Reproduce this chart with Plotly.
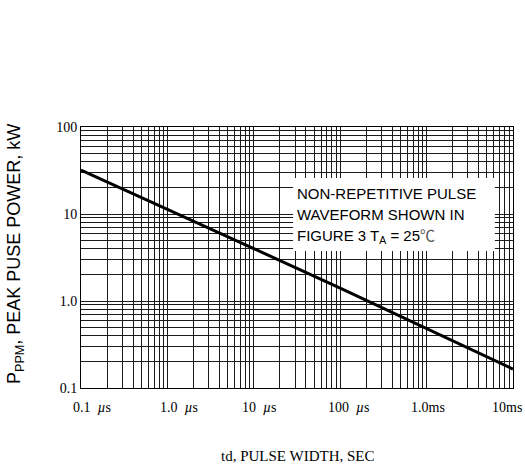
import math
import plotly.graph_objects as go

# Data (pulse width in seconds, peak power in kW)
pulse_width_s = [1e-7, 1e-6, 1e-5, 1e-4, 1e-3, 1e-2]
peak_power_kw = [32.0, 11.2, 4.0, 1.41, 0.48, 0.165]

x_tick_vals = [1e-7, 1e-6, 1e-5, 1e-4, 1e-3, 1e-2]
x_tick_text = ["0.1  <i>µ</i>s", "1.0  <i>µ</i>s", "10  <i>µ</i>s", "100  <i>µ</i>s", "1.0ms", "10ms"]
y_tick_vals = [0.1, 1, 10, 100]
y_tick_text = ["0.1", "1.0", "10", "100"]

note_lines = ["NON-REPETITIVE PULSE", "WAVEFORM SHOWN IN",
              "FIGURE 3 T<sub>A</sub> = 25<span style='font-family:Noto Sans CJK SC;color:#555'>℃</span>"]

serif = "Liberation Serif, Times New Roman, serif"
sans = "Liberation Sans, Arial, sans-serif"

fig = go.Figure()
fig.add_trace(go.Scatter(x=pulse_width_s, y=peak_power_kw, mode="lines",
                         line=dict(color="black", width=3), showlegend=False))

grid_color = "#1a1a1a"
fig.update_xaxes(type="log", range=[-7, -2], tickvals=x_tick_vals, showticklabels=False,
                 showgrid=True, gridcolor=grid_color, gridwidth=1,
                 minor=dict(dtick="D1", showgrid=True, gridcolor=grid_color, gridwidth=1, ticks=""),
                 showline=True, linecolor="black", linewidth=1, mirror=True,
                 ticks="", zeroline=False)
fig.update_yaxes(type="log", range=[-1, 2], tickvals=y_tick_vals, ticktext=y_tick_text,
                 showgrid=True, gridcolor=grid_color, gridwidth=1,
                 minor=dict(dtick="D1", showgrid=True, gridcolor=grid_color, gridwidth=1, ticks=""),
                 showline=True, linecolor="black", linewidth=1, mirror=True,
                 ticks="", tickfont=dict(family=serif, size=14, color="black"),
                 zeroline=False)

# x tick labels (slightly offset like in the reference); annotations on log axes use log10 units
label_shift = [11, 12, 6, 9, 1, -6]
for v, t, s in zip(x_tick_vals, x_tick_text, label_shift):
    fig.add_annotation(x=math.log10(v), xref="x", y=0, yref="paper", yshift=-19, xshift=s,
                       text=t, showarrow=False, xanchor="center", yanchor="middle",
                       font=dict(family=serif, size=14, color="black"))

# white box of the note
fig.add_shape(type="rect", xref="paper", yref="paper", x0=0.491, x1=0.958, y0=0.525, y1=0.805,
              fillcolor="white", line=dict(width=0), layer="above")
for i, line in enumerate(note_lines):
    fig.add_annotation(xref="paper", yref="paper", x=0.496, y=0.746 - i * 0.080,
                       xanchor="left", yanchor="middle", text=line, align="left", showarrow=False,
                       font=dict(family=sans, size=15, color="black"))

fig.add_annotation(xref="paper", yref="paper", x=-0.153, y=0.513, xanchor="center", yanchor="middle",
                   text="P<sub>PPM</sub>, PEAK PUSE POWER, kW", textangle=-90, showarrow=False,
                   font=dict(family=sans, size=18, color="black"))

fig.add_annotation(xref="paper", yref="paper", x=0.5, y=-0.26, xanchor="center", yanchor="middle",
                   text="td, PULSE WIDTH, SEC", showarrow=False,
                   font=dict(family=serif, size=15, color="black"))

fig.update_layout(width=525, height=466, margin=dict(l=81, r=12, t=127, b=78),
                  paper_bgcolor="white", plot_bgcolor="white")

fig.write_html("out.html", config={"displayModeBar": False},
               post_script="document.body.style.margin='0';document.body.style.overflow='hidden';")
